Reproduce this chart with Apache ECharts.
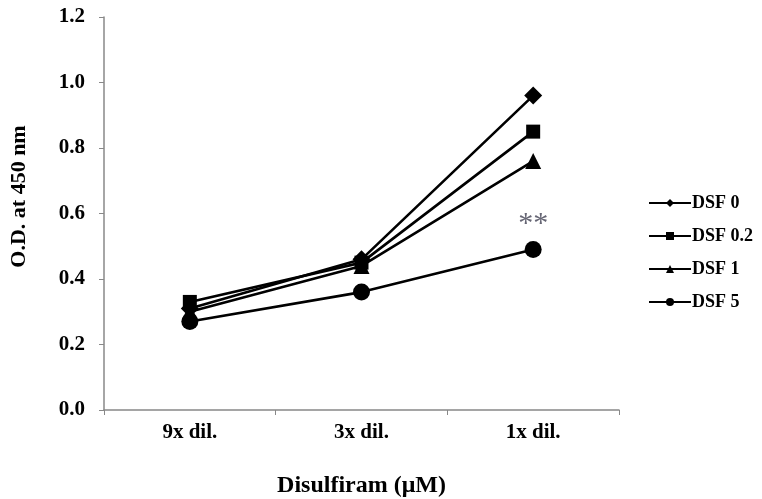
<!DOCTYPE html>
<html><head><meta charset="utf-8">
<script src="https://cdn.jsdelivr.net/npm/echarts@6/dist/echarts.min.js"></script>
<style>html,body{margin:0;padding:0;background:#fff}#c{width:762px;height:499px}</style>
</head><body><div id="c"></div>
<script>
const categories = ['9x dil.', '3x dil.', '1x dil.'];
const seriesNames = ['DSF 0', 'DSF 0.2', 'DSF 1', 'DSF 5'];
const dsf0 = [0.31, 0.46, 0.96];
const dsf02 = [0.33, 0.45, 0.85];
const dsf1 = [0.30, 0.44, 0.76];
const dsf5 = [0.27, 0.36, 0.49];
const yTicks = [0, 0.2, 0.4, 0.6, 0.8, 1.0, 1.2];
const significance = ['', '', '**'];

const font = 'Liberation Serif';
const symbols = ['diamond', 'rect', 'triangle', 'circle'];
const sizes = [18, 14, 16, 17];
const allData = [dsf0, dsf02, dsf1, dsf5];

const series = allData.map((d, i) => ({
  name: seriesNames[i],
  type: 'line',
  data: d.map((v, j) => {
    const item = { value: v };
    if (i === 3 && significance[j]) {
      item.label = { show: true, formatter: significance[j], position: 'top', distance: 2,
        color: '#666674', fontSize: 30, fontFamily: font, fontWeight: 'normal' };
    }
    return item;
  }),
  symbol: symbols[i],
  symbolSize: sizes[i],
  lineStyle: { color: '#000', width: 2.6 },
  itemStyle: { color: '#000' },
  z: 10 - i
}));

const chart = echarts.init(document.getElementById('c'));
chart.setOption({
  animation: false,
  grid: { left: 104, right: 143, top: 17, bottom: 89, containLabel: false, outerBoundsMode: 'none' },
  legend: {
    orient: 'vertical', left: 643, top: 189, itemGap: 15,
    itemWidth: 42, itemHeight: 10,
    data: seriesNames,
    textStyle: { fontFamily: font, fontWeight: 'bold', fontSize: 18, color: '#000', padding: [0, 0, 0, -4] }
  },
  xAxis: {
    type: 'category', data: categories, boundaryGap: true,
    axisLine: { lineStyle: { color: '#888', width: 1.5 } },
    axisTick: { show: true, length: 5, lineStyle: { color: '#888' } },
    axisLabel: { fontFamily: font, fontWeight: 'bold', fontSize: 21, color: '#000', margin: 12 },
    name: 'Disulfiram (μM)', nameLocation: 'middle', nameGap: 64,
    nameTextStyle: { fontFamily: font, fontWeight: 'bold', fontSize: 24, color: '#000' }
  },
  yAxis: {
    type: 'value', min: 0, max: 1.2, interval: 0.2,
    axisLine: { show: true, lineStyle: { color: '#888', width: 1.5 } },
    axisTick: { show: true, length: 5, lineStyle: { color: '#888' } },
    splitLine: { show: false },
    axisLabel: { fontFamily: font, fontWeight: 'bold', fontSize: 21, color: '#000', margin: 19,
      formatter: v => v.toFixed(1) },
    name: 'O.D. at 450 nm', nameLocation: 'middle', nameGap: 74, nameRotate: 90,
    nameTextStyle: { fontFamily: font, fontWeight: 'bold', fontSize: 22, color: '#000', padding: [0, 0, 0, 34] }
  },
  series: series
});
</script>
</body></html>
